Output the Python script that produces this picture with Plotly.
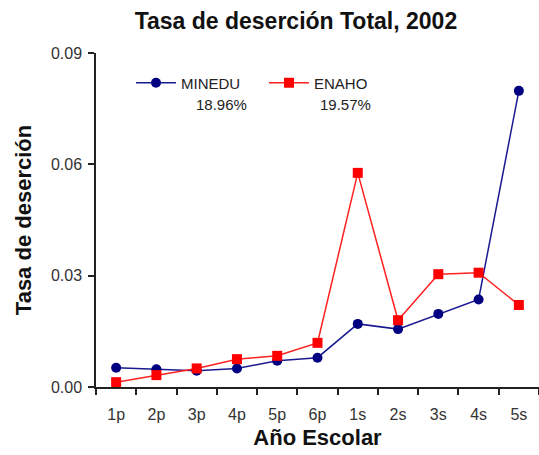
import plotly.graph_objects as go

categories = ["1p", "2p", "3p", "4p", "5p", "6p", "1s", "2s", "3s", "4s", "5s"]
minedu = [0.0052, 0.0048, 0.0044, 0.0050, 0.0071, 0.0079, 0.0170, 0.0156, 0.0197, 0.0236, 0.0798]
enaho = [0.0013, 0.0032, 0.0050, 0.0075, 0.0084, 0.0119, 0.0577, 0.0180, 0.0304, 0.0308, 0.0221]
series_names = ["MINEDU", "ENAHO"]
series_totals = ["18.96%", "19.57%"]
y_ticks = [0.0, 0.03, 0.06, 0.09]
y_ticklabels = ["0.00", "0.03", "0.06", "0.09"]

fig = go.Figure()
fig.add_trace(go.Scatter(
    x=categories, y=minedu, name=series_names[0], mode="lines+markers",
    line=dict(color="#1a1a90", width=1.5),
    marker=dict(symbol="circle", size=10, color="#000080"),
))
fig.add_trace(go.Scatter(
    x=categories, y=enaho, name=series_names[1], mode="lines+markers",
    line=dict(color="#ff2020", width=1.5),
    marker=dict(symbol="square", size=10, color="#ff0000"),
))

font_family = "Liberation Sans, Arial, sans-serif"

fig.update_layout(
    width=539, height=455,
    margin=dict(l=96, r=0, t=53, b=68),
    paper_bgcolor="white", plot_bgcolor="white",
    font=dict(family=font_family, color="#222222"),
    title=dict(text="<b>Tasa de deserción Total, 2002</b>", x=0.549, xanchor="center",
               y=0.954, yanchor="middle", font=dict(size=23, color="#111111")),
    showlegend=True,
    legend=dict(orientation="h", x=0.079, y=0.91, xanchor="left", yanchor="middle",
                font=dict(size=15, color="#222222"), bgcolor="rgba(0,0,0,0)",
                itemwidth=40, tracegroupgap=0, entrywidth=78, entrywidthmode="pixels"),
    xaxis=dict(
        type="category", range=[-0.5, 10.5], showgrid=False, zeroline=False, automargin=False,
        showline=True, linecolor="#222222", linewidth=1.5,
        ticks="outside", tickson="boundaries", ticklen=6, tickwidth=1.5, tickcolor="#222222",
        tickfont=dict(size=16, color="#333333"), ticklabelstandoff=12,
        title=dict(text="<b>Año Escolar</b>", font=dict(size=22, color="#111111"), standoff=8),
    ),
    yaxis=dict(
        range=[0, 0.09], tickvals=y_ticks, ticktext=y_ticklabels, showgrid=False, zeroline=False,
        automargin=False,
        showline=True, linecolor="#222222", linewidth=1.5,
        ticks="outside", ticklen=6, tickwidth=1.5, tickcolor="#222222",
        tickfont=dict(size=16, color="#333333"), ticklabelstandoff=3,
        title=dict(text="<b>Tasa de deserción</b>", font=dict(size=22, color="#111111"), standoff=13),
    ),
)

fig.add_annotation(x=0.284, y=0.847, xref="paper", yref="paper", text=series_totals[0],
                   showarrow=False, font=dict(size=15, color="#222222"), xanchor="center",
                   yanchor="middle")
fig.add_annotation(x=0.564, y=0.847, xref="paper", yref="paper", text=series_totals[1],
                   showarrow=False, font=dict(size=15, color="#222222"), xanchor="center",
                   yanchor="middle")

fig.write_html("out.html", config={"displayModeBar": False},
               post_script="document.body.style.margin='0px';")
